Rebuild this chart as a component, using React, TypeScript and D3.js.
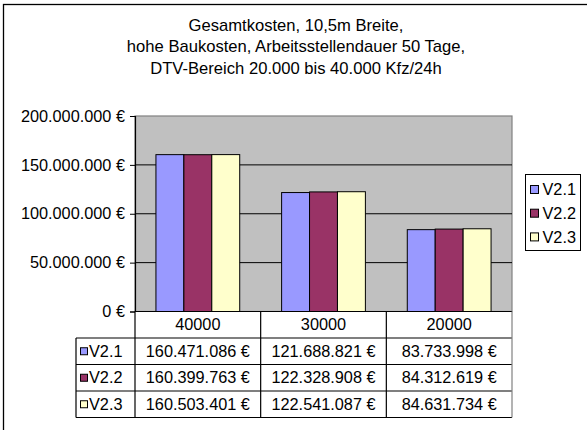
import React, { useRef, useEffect } from 'react';
import * as d3 from 'd3';

const titleLines = [
  'Gesamtkosten, 10,5m Breite,',
  'hohe Baukosten, Arbeitsstellendauer 50 Tage,',
  'DTV-Bereich 20.000 bis 40.000 Kfz/24h',
];

const categories = ['40000', '30000', '20000'];
const seriesNames = ['V2.1', 'V2.2', 'V2.3'];
const seriesColors = ['#9999FF', '#993366', '#FFFFCC'];

const v21 = [160471086, 121688821, 83733998];
const v22 = [160399763, 122328908, 84312619];
const v23 = [160503401, 122541087, 84631734];

const yTicks = [0, 50000000, 100000000, 150000000, 200000000];

const W = 587;
const H = 430;
const FONT = 'Liberation Sans, Arial, sans-serif';
const FS = 16.3;

const locale = d3.formatLocale({
  decimal: ',',
  thousands: '.',
  grouping: [3],
  currency: ['', ' €'],
});
const euro = (v: number) => `${locale.format(',.0f')(v)} €`;

const App: React.FC = () => {
  const svgRef = useRef<SVGSVGElement | null>(null);

  useEffect(() => {
    if (!svgRef.current) return;
    const svg = d3.select(svgRef.current);
    svg.selectAll('*').remove();

    const values = [v21, v22, v23];

    const plotL = 135;
    const plotR = 512;
    const plotT = 116;
    const plotB = 311.5;

    const x = d3.scaleBand().domain(categories).range([plotL, plotR]).padding(0);
    const xs = d3.scaleBand()
      .domain(seriesNames)
      .range([0, x.bandwidth()])
      .paddingInner(0)
      .paddingOuter(0.75);
    const y = d3.scaleLinear().domain([0, 200000000]).range([plotB, plotT]);

    // outer frame
    svg.append('rect')
      .attr('x', 3.5).attr('y', 4.5)
      .attr('width', 620).attr('height', 460)
      .attr('fill', '#fff').attr('stroke', '#000').attr('stroke-width', 1.3);

    // title
    svg.append('g').selectAll('text')
      .data(titleLines)
      .enter()
      .append('text')
      .attr('x', 296)
      .attr('y', (_d, i) => 30.5 + i * 21.5)
      .attr('text-anchor', 'middle')
      .attr('font-family', FONT)
      .attr('font-size', 16.6)
      .attr('fill', '#000')
      .text(d => d);

    // plot area
    svg.append('rect')
      .attr('x', plotL).attr('y', plotT)
      .attr('width', plotR - plotL).attr('height', plotB - plotT)
      .attr('fill', '#C0C0C0').attr('stroke', '#808080').attr('stroke-width', 1.2);

    // gridlines
    svg.append('g').selectAll('line')
      .data(yTicks.filter(t => t > 0 && t < 200000000))
      .enter()
      .append('line')
      .attr('x1', plotL).attr('x2', plotR)
      .attr('y1', d => y(d)).attr('y2', d => y(d))
      .attr('stroke', '#000').attr('stroke-width', 1);

    // bars
    values.forEach((vals, si) => {
      svg.append('g').selectAll('rect')
        .data(vals)
        .enter()
        .append('rect')
        .attr('x', (_d, ci) => (x(categories[ci]) || 0) + (xs(seriesNames[si]) || 0))
        .attr('y', d => y(d))
        .attr('width', xs.bandwidth())
        .attr('height', d => plotB - y(d))
        .attr('fill', seriesColors[si])
        .attr('stroke', '#000')
        .attr('stroke-width', 1);
    });

    // y axis
    const yAxis = d3.axisLeft(y)
      .tickValues(yTicks)
      .tickSize(5)
      .tickFormat(d => euro(d as number));
    const yAxisG = svg.append('g')
      .attr('transform', `translate(${plotL},0)`)
      .call(yAxis);
    yAxisG.select('.domain').attr('stroke', '#000').attr('stroke-width', 1.2);
    yAxisG.selectAll('.tick line').attr('stroke', '#000');
    yAxisG.selectAll('.tick text')
      .attr('font-family', FONT)
      .attr('font-size', FS)
      .attr('fill', '#000')
      .attr('x', -10);

    // data table
    const tblL = 76;
    const rowH = 26.5;
    const rowY = (i: number) => plotB + i * rowH;
    const tblB = rowY(4);
    const t = svg.append('g');
    const hline = (x1: number, x2: number, yy: number, c = '#000') =>
      t.append('line').attr('x1', x1).attr('x2', x2).attr('y1', yy).attr('y2', yy)
        .attr('stroke', c).attr('stroke-width', 1.2);
    const vline = (xx: number, y1: number, y2: number, c = '#000') =>
      t.append('line').attr('x1', xx).attr('x2', xx).attr('y1', y1).attr('y2', y2)
        .attr('stroke', c).attr('stroke-width', 1.2);

    t.append('rect').attr('x', plotL).attr('y', plotB).attr('width', plotR - plotL)
      .attr('height', tblB - plotB).attr('fill', '#fff');
    t.append('rect').attr('x', tblL).attr('y', rowY(1)).attr('width', plotL - tblL)
      .attr('height', tblB - rowY(1)).attr('fill', '#fff');

    hline(plotL, plotR, plotB);
    [1, 2, 3, 4].forEach(i => hline(tblL, plotR, rowY(i)));
    vline(tblL, rowY(1), tblB);
    vline(plotL, plotB, tblB);
    categories.slice(1).forEach(c => vline(x(c) || 0, plotB, tblB));
    vline(plotR, plotB, tblB, '#808080');

    t.selectAll('text.hdr')
      .data(categories)
      .enter()
      .append('text')
      .attr('class', 'hdr')
      .attr('x', d => (x(d) || 0) + x.bandwidth() / 2)
      .attr('y', plotB + rowH / 2)
      .attr('dy', '0.35em')
      .attr('text-anchor', 'middle')
      .attr('font-family', FONT)
      .attr('font-size', FS)
      .text(d => d);

    values.forEach((vals, si) => {
      const cy = rowY(si + 1) + rowH / 2;
      t.append('rect')
        .attr('x', 80.5).attr('y', cy - 3.5)
        .attr('width', 7).attr('height', 7)
        .attr('fill', seriesColors[si]).attr('stroke', '#000').attr('stroke-width', 1);
      t.append('text')
        .attr('x', 89).attr('y', cy).attr('dy', '0.35em')
        .attr('font-family', FONT).attr('font-size', FS)
        .text(seriesNames[si]);
      t.append('g').selectAll('text')
        .data(vals)
        .enter()
        .append('text')
        .attr('x', (_d, ci) => (x(categories[ci]) || 0) + x.bandwidth() / 2)
        .attr('y', cy)
        .attr('dy', '0.35em')
        .attr('text-anchor', 'middle')
        .attr('font-family', FONT)
        .attr('font-size', FS)
        .text(d => euro(d));
    });

    // legend
    const lg = svg.append('g');
    lg.append('rect')
      .attr('x', 525.5).attr('y', 174.5).attr('width', 55).attr('height', 76)
      .attr('fill', '#fff').attr('stroke', '#000').attr('stroke-width', 1);
    seriesNames.forEach((name, i) => {
      const cy = 189.5 + i * 23.7;
      lg.append('rect')
        .attr('x', 530.5).attr('y', cy - 4)
        .attr('width', 8).attr('height', 8)
        .attr('fill', seriesColors[i]).attr('stroke', '#000').attr('stroke-width', 1);
      lg.append('text')
        .attr('x', 542.5).attr('y', cy).attr('dy', '0.35em')
        .attr('font-family', FONT).attr('font-size', FS)
        .text(name);
    });
  }, []);

  return (
    <svg
      ref={svgRef}
      width={W}
      height={H}
      style={{ position: 'absolute', left: 0, top: 0, background: '#fff' }}
    />
  );
};

export default App;
